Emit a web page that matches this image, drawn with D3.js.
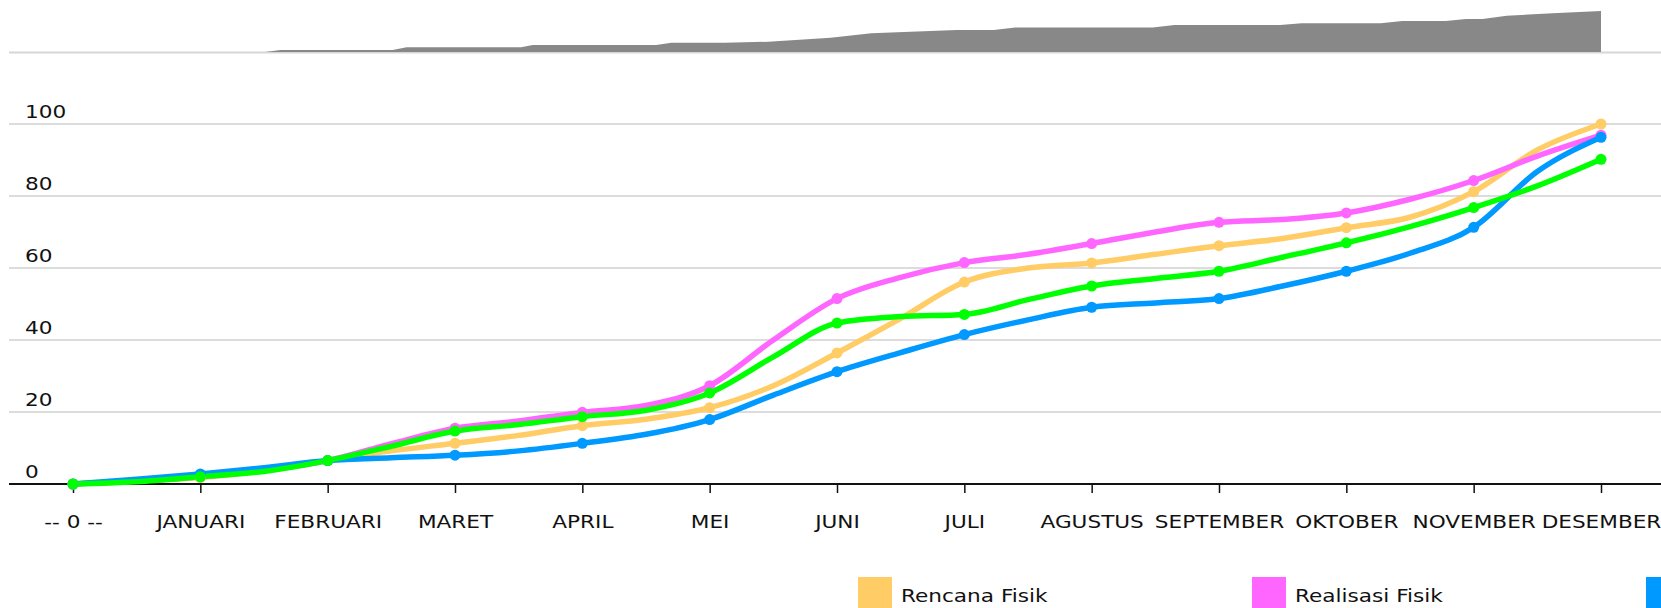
<!DOCTYPE html>
<html>
<head>
<meta charset="utf-8">
<script src="https://cdn.jsdelivr.net/npm/d3@7/dist/d3.min.js"></script>
<style>
    html, body { margin: 0; padding: 0; background: #fff; }
    svg { display: block; font-family: "DejaVu Sans", Verdana, sans-serif; }
</style>
</head>
<body>
<svg id="chart" width="1661" height="608"></svg>
<script>
(function () {
    'use strict';

    // --- Data ------------------------------------------------------------

    var monthLabels = ['-- 0 --', 'JANUARI', 'FEBRUARI', 'MARET', 'APRIL', 'MEI',
        'JUNI', 'JULI', 'AGUSTUS', 'SEPTEMBER', 'OKTOBER', 'NOVEMBER', 'DESEMBER'];
    var monthIdx = [0, 1, 2, 3, 4, 5, 6, 7, 8, 9, 10, 11, 12];
    var yTicks = [0, 20, 40, 60, 80, 100];

    // readings are taken every half month, markers sit on whole months
    var halfMonths = [0, 0.5, 1, 1.5, 2, 2.5, 3, 3.5, 4, 4.5, 5, 5.5, 6,
        6.5, 7, 7.5, 8, 8.5, 9, 9.5, 10, 10.5, 11, 11.5, 12];

    var rencanaFisik = [0, 0.9, 1.8, 3.8, 6.5, 9.2, 11.3, 13.5, 16.2, 18.0, 21.2, 27.3, 36.4,
        46.0, 56.1, 60.0, 61.4, 63.8, 66.2, 68.2, 71.2, 74.1, 81.2, 92.8, 100];
    var realisasiFisik = [0, 0.8, 2.0, 3.8, 6.5, 11.2, 15.5, 17.5, 19.9, 21.8, 27.3, 40.0, 51.5,
        57.4, 61.5, 63.8, 66.8, 70.0, 72.7, 73.5, 75.3, 79.1, 84.3, 91.1, 96.9];
    var rencanaKeuangan = [0, 1.3, 2.8, 4.5, 6.5, 7.3, 8.0, 9.2, 11.3, 13.8, 17.9, 24.7, 31.2,
        36.5, 41.5, 45.6, 49.1, 50.3, 51.5, 55.0, 59.1, 64.1, 71.3, 86.8, 96.3];
    var realisasiKeuangan = [0, 0.6, 2.0, 3.5, 6.5, 10.5, 14.7, 16.5, 18.7, 20.5, 25.3, 35.3, 44.7,
        46.5, 47.1, 51.2, 55.0, 57.1, 59.1, 63.0, 67.0, 71.5, 76.8, 82.8, 90.2];

    var seriesNames = ['Rencana Fisik', 'Realisasi Fisik', 'Rencana Keuangan', 'Realisasi Keuangan'];
    var seriesColors = ['#ffcc66', '#ff66ff', '#0099ff', '#00ff00'];
    var seriesValues = [rencanaFisik, realisasiFisik, rencanaKeuangan, realisasiKeuangan];

    // range navigator strip on top (relative height, % of its maximum)
    var overviewAt = [1.51, 1.63, 2.51, 2.62, 3.52, 3.61, 4.58, 4.70, 5.12, 5.46, 5.95, 6.27,
        6.94, 7.23, 7.40, 8.48, 8.65, 9.48, 9.65, 10.27, 10.44, 10.78, 10.94, 11.07,
        11.26, 11.62, 12];
    var overviewVal = [0, 4.9, 4.9, 11.5, 11.5, 17, 17, 22.7, 22.7, 25, 35, 45.5,
        53.7, 53.7, 60, 60, 66, 66, 70, 70, 75.6, 75.6, 80.5, 80.5,
        88.6, 94.3, 100];

    // --- Layout ----------------------------------------------------------

    var W = 1661,
        left = 9,
        stretch = 1.2;      // text in the reference is drawn wide

    var svg = d3.select('#chart');

    var x = d3.scaleLinear().domain([0, 12]).range([73, 1601]);
    var y = d3.scaleLinear().domain([0, 100]).range([484, 124]);
    var yOv = d3.scaleLinear().domain([0, 100]).range([52, 11]);

    function wideText(g, tx, ty, str, anchor) {
        return g.append('text')
            .attr('transform', 'translate(' + tx + ',' + ty + ') scale(' + stretch + ',1)')
            .attr('text-anchor', anchor || 'start')
            .attr('font-size', 18)
            .attr('fill', '#111')
            .text(str);
    }

    // --- Overview strip --------------------------------------------------

    function drawOverview() {
        var g = svg.append('g').attr('class', 'overview');
        var pts = overviewAt.map(function (m, i) { return [m, overviewVal[i]]; });

        g.append('line')
            .attr('x1', left).attr('x2', W)
            .attr('y1', yOv(0) + 0.5).attr('y2', yOv(0) + 0.5)
            .attr('stroke', '#d6d6d6').attr('stroke-width', 2);

        g.append('path')
            .datum(pts)
            .attr('fill', '#888888')
            .attr('d', d3.area()
                .x(function (d) { return x(d[0]); })
                .y0(yOv(0))
                .y1(function (d) { return yOv(d[1]); }));
    }

    // --- Grid and axes ---------------------------------------------------

    function drawGrid() {
        var g = svg.append('g').attr('class', 'grid');

        g.selectAll('line.gl')
            .data(yTicks.filter(function (v) { return v > 0; }))
            .enter().append('line')
            .attr('class', 'gl')
            .attr('x1', left).attr('x2', W)
            .attr('y1', function (d) { return y(d); })
            .attr('y2', function (d) { return y(d); })
            .attr('stroke', '#dcdcdc')
            .attr('stroke-width', 2);

        yTicks.forEach(function (v) {
            wideText(g, 25, y(v) - 6, String(v));
        });
    }

    function drawXAxis() {
        var axis = d3.axisBottom(x)
            .tickValues(monthIdx)
            .tickSize(9)
            .tickFormat(function (d) { return monthLabels[d]; });

        var g = svg.append('g')
            .attr('class', 'x-axis')
            .attr('transform', 'translate(0,' + y(0) + ')')
            .call(axis);

        g.select('.domain').remove();
        g.selectAll('.tick line').attr('stroke', '#111').attr('stroke-width', 1.5);
        g.selectAll('.tick text')
            .attr('y', 44).attr('dy', 0)
            .attr('font-size', 18)
            .attr('font-family', '"DejaVu Sans", Verdana, sans-serif')
            .attr('fill', '#111')
            .attr('transform', 'scale(' + stretch + ',1)');

        svg.append('line')
            .attr('x1', left).attr('x2', W)
            .attr('y1', y(0)).attr('y2', y(0))
            .attr('stroke', '#111').attr('stroke-width', 2);
    }

    // --- Series ----------------------------------------------------------

    function drawSeries() {
        var line = d3.line()
            .x(function (d) { return x(d[0]); })
            .y(function (d) { return y(d[1]); })
            .curve(d3.curveMonotoneX);

        var lines = svg.append('g').attr('class', 'lines'),
            dots = svg.append('g').attr('class', 'dots');

        seriesValues.forEach(function (vals, i) {
            var pts = halfMonths.map(function (m, j) { return [m, vals[j]]; });

            lines.append('path')
                .datum(pts)
                .attr('fill', 'none')
                .attr('stroke', seriesColors[i])
                .attr('stroke-width', 5.5)
                .attr('stroke-linejoin', 'round')
                .attr('d', line);

            dots.selectAll('circle.s' + i)
                .data(pts.filter(function (p) { return monthIdx.indexOf(p[0]) >= 0; }))
                .enter().append('circle')
                .attr('class', 's' + i)
                .attr('cx', function (d) { return x(d[0]); })
                .attr('cy', function (d) { return y(d[1]); })
                .attr('r', 5.5)
                .attr('fill', seriesColors[i]);
        });
    }

    // --- Legend ----------------------------------------------------------

    function drawLegend() {
        var g = svg.append('g').attr('class', 'legend');

        seriesNames.forEach(function (name, i) {
            var lx = 858 + i * 394;
            if (lx >= W) { return; }        // runs past the right edge
            g.append('rect')
                .attr('x', lx).attr('y', 577)
                .attr('width', 34).attr('height', 34)
                .attr('fill', seriesColors[i]);
            // labels only where the page still has room for them
            if (lx + 43 < W - 100) {
                wideText(g, lx + 43, 602, name);
            }
        });
    }

    drawOverview();
    drawGrid();
    drawXAxis();
    drawSeries();
    drawLegend();
}());
</script>
</body>
</html>
